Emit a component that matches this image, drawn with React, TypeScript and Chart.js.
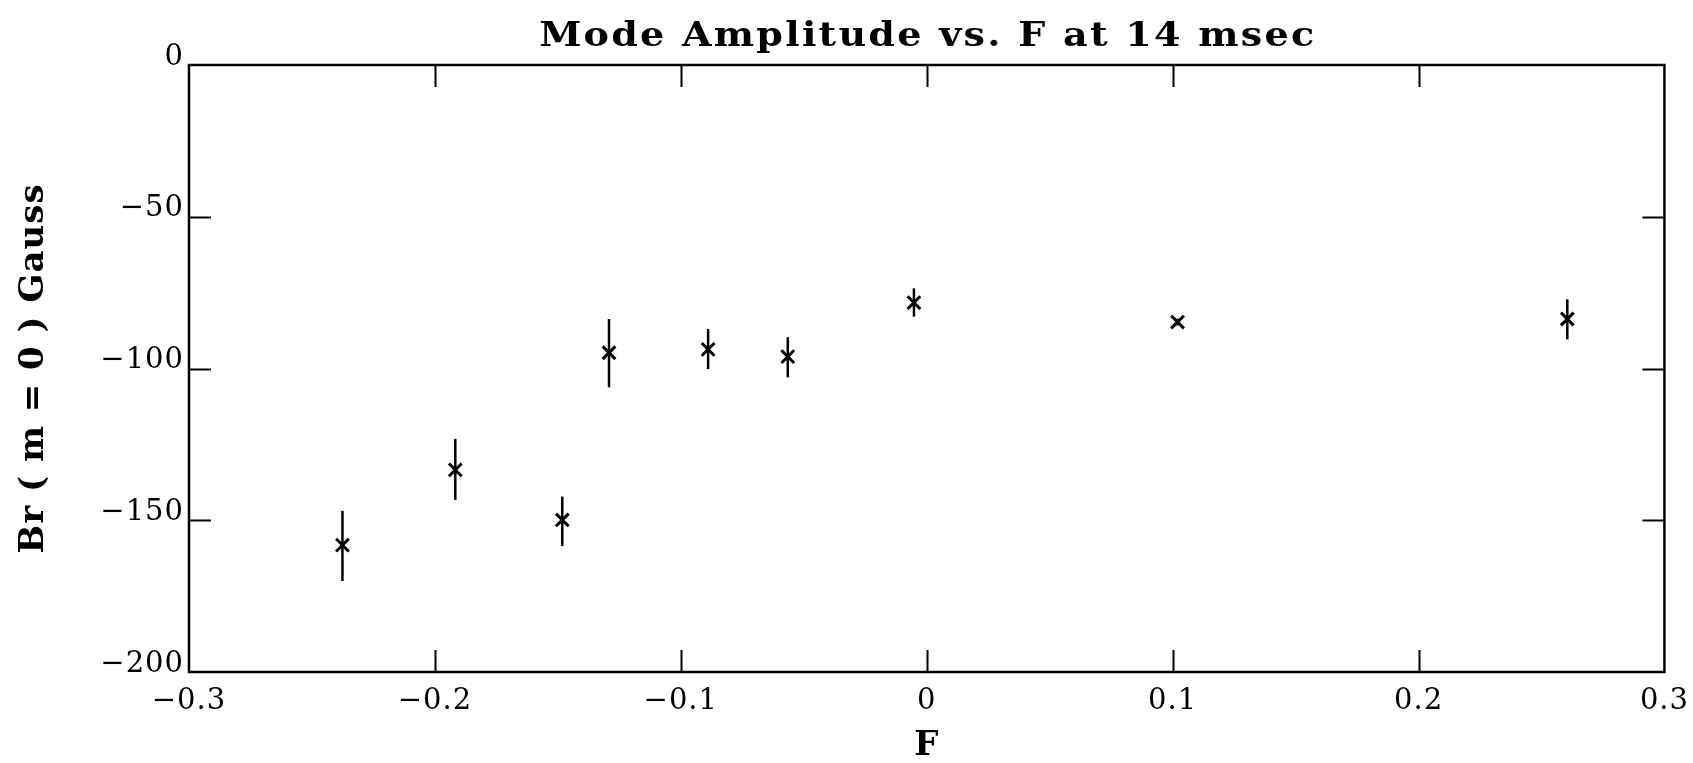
import React, { useEffect, useRef } from "react";
import { Chart, registerables } from "chart.js";

Chart.register(...registerables);

// ---- Data ----
const fValues = [-0.2376, -0.1917, -0.1482, -0.1292, -0.0889, -0.0565, -0.0052, 0.102, 0.2605];
const brValues = [-158.2, -133.4, -149.9, -94.8, -93.7, -96.1, -78.3, -84.7, -83.7];
const brUpper = [-146.9, -123.2, -142.2, -83.7, -87.0, -89.7, -73.6, -83.6, -77.2];
const brLower = [-170.0, -143.3, -158.5, -106.2, -100.2, -102.9, -82.9, -85.8, -90.4];
const xTickValues = [-0.3, -0.2, -0.1, 0, 0.1, 0.2, 0.3];
const yTickValues = [0, -50, -100, -150, -200];

const titleText = "Mode Amplitude vs. F at 14 msec";
const xTitle = "F";
const yTitle = "Br ( m = 0 ) Gauss";

const FONT = "'DejaVu Serif', 'Liberation Serif', serif";

function fmt(v: number, digits: number): string {
  if (Math.abs(v) < 1e-9) return "0";
  const s = Math.abs(v).toFixed(digits);
  return v < 0 ? "\u2212" + s : s;
}

const spacingPlugin = {
  id: "letterSpacing",
  beforeUpdate(chart: any) {
    chart.ctx.letterSpacing = "1px";
  },
  beforeDraw(chart: any) {
    chart.ctx.letterSpacing = "1px";
  },
};

const errorBarPlugin = {
  id: "errorBars",
  beforeDatasetsDraw(chart: any) {
    const { ctx } = chart;
    const xs = chart.scales.x;
    const ys = chart.scales.y;
    ctx.save();
    ctx.strokeStyle = "#000";
    ctx.lineWidth = 2.5;
    ctx.lineCap = "butt";
    for (let i = 0; i < fValues.length; i++) {
      const x = xs.getPixelForValue(fValues[i]);
      const y1 = ys.getPixelForValue(brUpper[i]);
      const y2 = ys.getPixelForValue(brLower[i]);
      ctx.beginPath();
      ctx.moveTo(x, y1);
      ctx.lineTo(x, y2);
      ctx.stroke();
    }
    ctx.restore();
  },
};

const framePlugin = {
  id: "frameTicks",
  afterDraw(chart: any) {
    const { ctx, chartArea } = chart;
    const { left, right, top, bottom } = chartArea;
    const xs = chart.scales.x;
    const ys = chart.scales.y;
    const tl = 22;
    ctx.save();
    ctx.strokeStyle = "#000";
    ctx.lineWidth = 2.5;
    ctx.strokeRect(left, top, right - left, bottom - top);
    ctx.lineWidth = 2;
    ctx.beginPath();
    xTickValues.slice(1, -1).forEach((v) => {
      const x = Math.round(xs.getPixelForValue(v)) + 0.5;
      ctx.moveTo(x, bottom);
      ctx.lineTo(x, bottom - tl);
      ctx.moveTo(x, top);
      ctx.lineTo(x, top + tl);
    });
    yTickValues.slice(1, -1).forEach((v) => {
      const y = Math.round(ys.getPixelForValue(v)) + 0.5;
      ctx.moveTo(left, y);
      ctx.lineTo(left + tl, y);
      ctx.moveTo(right, y);
      ctx.lineTo(right - tl, y);
    });
    ctx.stroke();

    // Chart title (slightly widened to match the reference typeface)
    ctx.letterSpacing = "2px";
    ctx.fillStyle = "#000";
    ctx.font = `bold 34px ${FONT}`;
    ctx.textAlign = "center";
    ctx.textBaseline = "middle";
    ctx.translate((left + right) / 2 + 1, 37);
    ctx.scale(1.12, 1);
    ctx.fillText(titleText, 0, 0);
    ctx.restore();
  },
};

export default function App() {
  const canvasRef = useRef<HTMLCanvasElement | null>(null);

  useEffect(() => {
    const canvas = canvasRef.current;
    if (!canvas) return;
    const chart = new Chart(canvas, {
      type: "scatter",
      data: {
        datasets: [
          {
            data: fValues.map((x, i) => ({ x, y: brValues[i] })),
            pointStyle: "crossRot",
            pointRadius: 9,
            pointHoverRadius: 9,
            borderColor: "#000",
            backgroundColor: "#000",
            borderWidth: 3,
            showLine: false,
          } as any,
        ],
      },
      options: {
        responsive: false,
        devicePixelRatio: 1,
        animation: false,
        events: [],
        layout: { padding: { top: 65, right: 25, bottom: 0, left: 0 } },
        plugins: {
          legend: { display: false },
          tooltip: { enabled: false },
          title: { display: false },
        },
        scales: {
          x: {
            type: "linear",
            min: -0.3,
            max: 0.3,
            afterBuildTicks: (s: any) => {
              s.ticks = xTickValues.map((v) => ({ value: v }));
            },
            afterFit: (s: any) => {
              s.height = 91;
            },
            grid: { display: false },
            border: { display: false },
            ticks: {
              autoSkip: false,
              maxRotation: 0,
              padding: 4,
              color: "#000",
              font: { family: FONT, size: 29 },
              callback: (v: any) => fmt(Number(v), 1),
            },
            title: {
              display: true,
              text: xTitle,
              color: "#000",
              font: { family: FONT, size: 34, weight: "bold", lineHeight: 1 },
              padding: 0,
            },
          },
          y: {
            type: "linear",
            min: -200,
            max: 0,
            afterBuildTicks: (s: any) => {
              s.ticks = yTickValues.map((v) => ({ value: v }));
            },
            afterFit: (s: any) => {
              s.width = 189;
            },
            grid: { display: false },
            border: { display: false },
            ticks: {
              autoSkip: false,
              padding: -3,
              labelOffset: -8,
              color: "#000",
              font: { family: FONT, size: 29 },
              callback: (v: any) => fmt(Number(v), 0),
            },
            title: {
              display: true,
              text: yTitle,
              color: "#000",
              font: { family: FONT, size: 34, weight: "bold", lineHeight: 1 },
              padding: { top: 17, bottom: 0 },
            },
          },
        },
      },
      plugins: [spacingPlugin, errorBarPlugin, framePlugin],
    } as any);
    return () => chart.destroy();
  }, []);

  return (
    <div style={{ position: "fixed", left: 0, top: 0, width: 1693, height: 763, background: "#fff" }}>
      <canvas ref={canvasRef} width={1693} height={763} style={{ width: 1693, height: 763, display: "block" }} />
    </div>
  );
}
